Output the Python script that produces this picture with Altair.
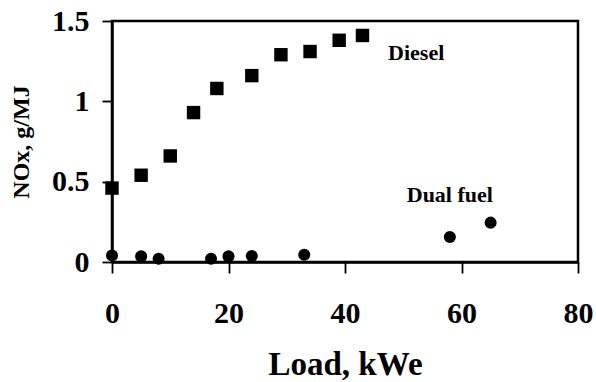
import altair as alt
import pandas as pd

diesel_load = [0, 5, 10, 14, 18, 24, 29, 34, 39, 43]
diesel_nox = [0.46, 0.54, 0.66, 0.93, 1.08, 1.16, 1.29, 1.31, 1.38, 1.41]

dual_load = [0, 5, 8, 17, 20, 24, 33, 58, 65]
dual_nox = [0.04, 0.035, 0.02, 0.02, 0.035, 0.037, 0.045, 0.155, 0.245]

label_text = ["Diesel", "Dual fuel"]
label_x = [47.4, 50.6]
label_y = [1.257, 0.373]

FONT = "Liberation Serif"

d1 = pd.DataFrame({"load": diesel_load, "nox": diesel_nox})
d2 = pd.DataFrame({"load": dual_load, "nox": dual_nox})
dl = pd.DataFrame({"x": label_x, "y": label_y, "t": label_text})

xs = alt.Scale(domain=[0, 80], nice=False, zero=False)
ys = alt.Scale(domain=[0, 1.5], nice=False, zero=False)

xaxis = alt.Axis(
    title="Load, kWe", values=[0, 20, 40, 60, 80], grid=False,
    domainColor="black", domainWidth=2.5, tickColor="black", tickWidth=1.8,
    tickSize=11, labelFont=FONT, labelFontSize=30, labelFontWeight="bold",
    labelColor="black", labelBaseline="alphabetic", labelPadding=49,
    labelFlush=False, labelOverlap=False,
    titleFont=FONT, titleFontSize=33, titleFontWeight="bold", titleColor="black",
    titleBaseline="alphabetic", titleX=233, titleY=112, titleAnchor="middle",
)
yaxis = alt.Axis(
    title="NOx, g/MJ", values=[0, 0.5, 1, 1.5], grid=False,
    domainColor="black", domainWidth=2.5, tickColor="black", tickWidth=1.8,
    tickSize=10, labelFont=FONT, labelFontSize=30, labelFontWeight="bold",
    labelColor="black", labelPadding=13, labelFlush=False, labelOverlap=False,
    format="~g",
    titleFont=FONT, titleFontSize=24, titleFontWeight="bold", titleColor="black",
    titleBaseline="alphabetic", titleAngle=270, titleX=-84, titleY=120.5,
    titleAlign="center",
)

sq = alt.Chart(d1).mark_point(shape="square", filled=True, color="black",
                               opacity=1, size=180).encode(
    x=alt.X("load:Q", scale=xs, axis=xaxis),
    y=alt.Y("nox:Q", scale=ys, axis=yaxis),
)
ci = alt.Chart(d2).mark_point(shape="circle", filled=True, color="black",
                               opacity=1, size=145).encode(
    x=alt.X("load:Q", scale=xs),
    y=alt.Y("nox:Q", scale=ys),
)
tx = alt.Chart(dl).mark_text(font=FONT, fontSize=22, fontWeight="bold",
                             color="black", align="left",
                             baseline="alphabetic").encode(
    x=alt.X("x:Q", scale=xs),
    y=alt.Y("y:Q", scale=ys),
    text="t:N",
)

chart = (sq + ci + tx).properties(
    width=466, height=241,
    autosize=alt.AutoSizeParams(type="none"),
    padding={"left": 112, "top": 21, "right": 18, "bottom": 120},
    background="white",
).configure_view(stroke="black", strokeWidth=2.5)

chart.save("out.html", embed_options={"renderer": "svg", "actions": False})
